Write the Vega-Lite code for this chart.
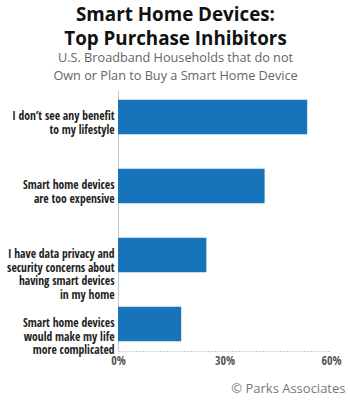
{
  "$schema": "https://vega.github.io/schema/vega-lite/v6.json",
  "autosize": "none",
  "width": 213,
  "height": 261,
  "padding": {"left": 118, "top": 90, "right": 19, "bottom": 49},
  "background": "white",
  "title": {
    "text": ["Smart Home Devices:", "Top Purchase Inhibitors"],
    "subtitle": ["U.S. Broadband Households that do not", "Own or Plan to Buy a Smart Home Device"],
    "anchor": "middle",
    "frame": "group",
    "dx": -49,
    "offset": 7,
    "font": "Open Sans",
    "fontSize": 18.8,
    "fontWeight": "bold",
    "lineHeight": 24,
    "color": "#111",
    "subtitleFont": "Open Sans",
    "subtitleFontSize": 12.7,
    "subtitleLineHeight": 18,
    "subtitleColor": "#666",
    "subtitlePadding": 4
  },
  "data": {
    "values": [
      {"reason": "I don’t see any benefit|to my lifestyle", "pct": 53.3},
      {"reason": "Smart home devices|are too expensive", "pct": 41.3},
      {"reason": "I have data privacy and|security concerns about|having smart devices|in my home", "pct": 24.9},
      {"reason": "Smart home devices|would make my life|more complicated", "pct": 17.8}
    ]
  },
  "mark": {"type": "bar", "color": "#1874BA"},
  "encoding": {
    "y": {
      "field": "reason",
      "type": "nominal",
      "sort": null,
      "scale": {"paddingInner": 0.5, "paddingOuter": 0.14},
      "axis": {
        "title": null,
        "labelExpr": "split(datum.value, '|')",
        "labelFont": "'Open Sans Condensed', 'Roboto Condensed', Roboto",
        "labelFontSize": 11.6,
        "labelFontWeight": "bold",
        "labelColor": "#222",
        "labelLineHeight": 13.6,
        "labelPadding": 4,
        "labelLimit": 200,
        "ticks": false,
        "domainColor": "#c8c8c8",
        "domainWidth": 1
      }
    },
    "x": {
      "field": "pct",
      "type": "quantitative",
      "scale": {"domain": [0, 60]},
      "axis": {
        "values": [0, 30, 60],
        "labelExpr": "datum.value + '%'",
        "grid": false,
        "ticks": false,
        "domainDash": [1, 2],
        "domainColor": "#999",
        "labelFont": "'Open Sans Condensed', 'Roboto Condensed', Roboto",
        "labelFontSize": 12,
        "labelFontWeight": "bold",
        "labelColor": "#555",
        "labelPadding": 4,
        "labelFlush": false,
        "title": "© Parks Associates",
        "titleFont": "Open Sans",
        "titleFontSize": 13,
        "titleFontWeight": "normal",
        "titleColor": "#777",
        "titleAlign": "right",
        "titleAnchor": "end",
        "titleX": 227,
        "titleY": 41,
        "titleBaseline": "alphabetic"
      }
    }
  },
  "config": {"view": {"stroke": null}}
}
